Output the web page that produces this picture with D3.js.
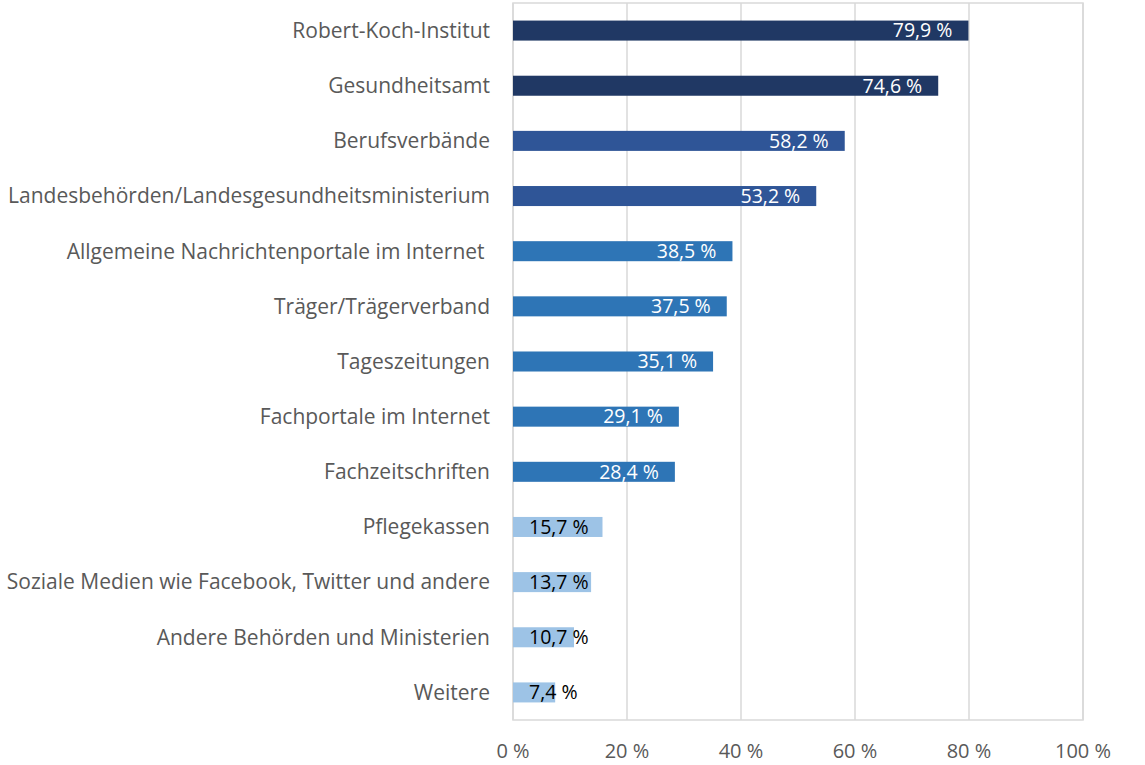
<!DOCTYPE html>
<html><head><meta charset="utf-8">
<script src="https://cdn.jsdelivr.net/npm/d3@7"></script>
<style>body{margin:0;background:#fff}svg text{white-space:pre}</style>
</head><body><svg id="c" width="1145" height="765"></svg>
<script>
const categories = ["Robert-Koch-Institut","Gesundheitsamt","Berufsverbände","Landesbehörden/Landesgesundheitsministerium","Allgemeine Nachrichtenportale im Internet ","Träger/Trägerverband","Tageszeitungen","Fachportale im Internet","Fachzeitschriften","Pflegekassen","Soziale Medien wie Facebook, Twitter und andere","Andere Behörden und Ministerien","Weitere"];
const values = [79.9,74.6,58.2,53.2,38.5,37.5,35.1,29.1,28.4,15.7,13.7,10.7,7.4];
const groups = [0,0,1,1,2,2,2,2,2,3,3,3,3];
const groupColors = ["#203864","#2F5597","#2E75B6","#9DC3E6"];
const labelColors = ["#ffffff","#ffffff","#ffffff","#000000"];
const ticks = [0,20,40,60,80,100];

const svg = d3.select("#c");
const L = 513, R = 1083, T = 3, B = 720;
const x = d3.scaleLinear().domain([0,100]).range([L,R]);
const y = d3.scaleBand().domain(categories).range([T,B]).paddingInner(0.637).paddingOuter(0.3185);
const font = "'Open Sans', sans-serif";
const fmt = v => v.toFixed(1).replace(".", ",") + " %";

svg.append("g").selectAll("line").data(ticks).join("line")
  .attr("x1", d=>x(d)).attr("x2", d=>x(d)).attr("y1", T).attr("y2", B)
  .attr("stroke", "#D9D9D9").attr("stroke-width", 1.5);
svg.append("rect").attr("x", L).attr("y", T).attr("width", R-L).attr("height", B-T)
  .attr("fill","none").attr("stroke","#D9D9D9").attr("stroke-width",1.5);

svg.append("g").selectAll("text").data(ticks).join("text")
  .attr("x", d=>x(d)).attr("y", 758).attr("text-anchor","middle")
  .attr("font-family", font).attr("font-size", 20).attr("fill","#595959")
  .text(d=>d+" %");

svg.append("g").selectAll("text").data(categories).join("text")
  .attr("x", 490).attr("y", d=>y(d)+y.bandwidth()/2).attr("dy","0.35em")
  .attr("text-anchor","end").attr("font-family", font).attr("font-size", 21).attr("fill","#595959")
  .text(d=>d);

svg.append("g").selectAll("rect").data(values).join("rect")
  .attr("x", x(0)).attr("y", (d,i)=>y(categories[i]))
  .attr("width", d=>x(d)-x(0)).attr("height", y.bandwidth())
  .attr("fill", (d,i)=>groupColors[groups[i]]);

const lbl = svg.append("g").selectAll("text").data(values).join("text")
  .attr("y", (d,i)=>y(categories[i])+y.bandwidth()/2).attr("dy","0.35em")
  .attr("text-anchor","end").attr("font-family", font).attr("font-size", 19.5)
  .attr("fill", (d,i)=>labelColors[groups[i]])
  .text(d=>fmt(d));
lbl.each(function(d){
  const w = this.getComputedTextLength();
  d3.select(this).attr("x", Math.max(x(d)-16, x(0)+16+w));
});
</script></body></html>
